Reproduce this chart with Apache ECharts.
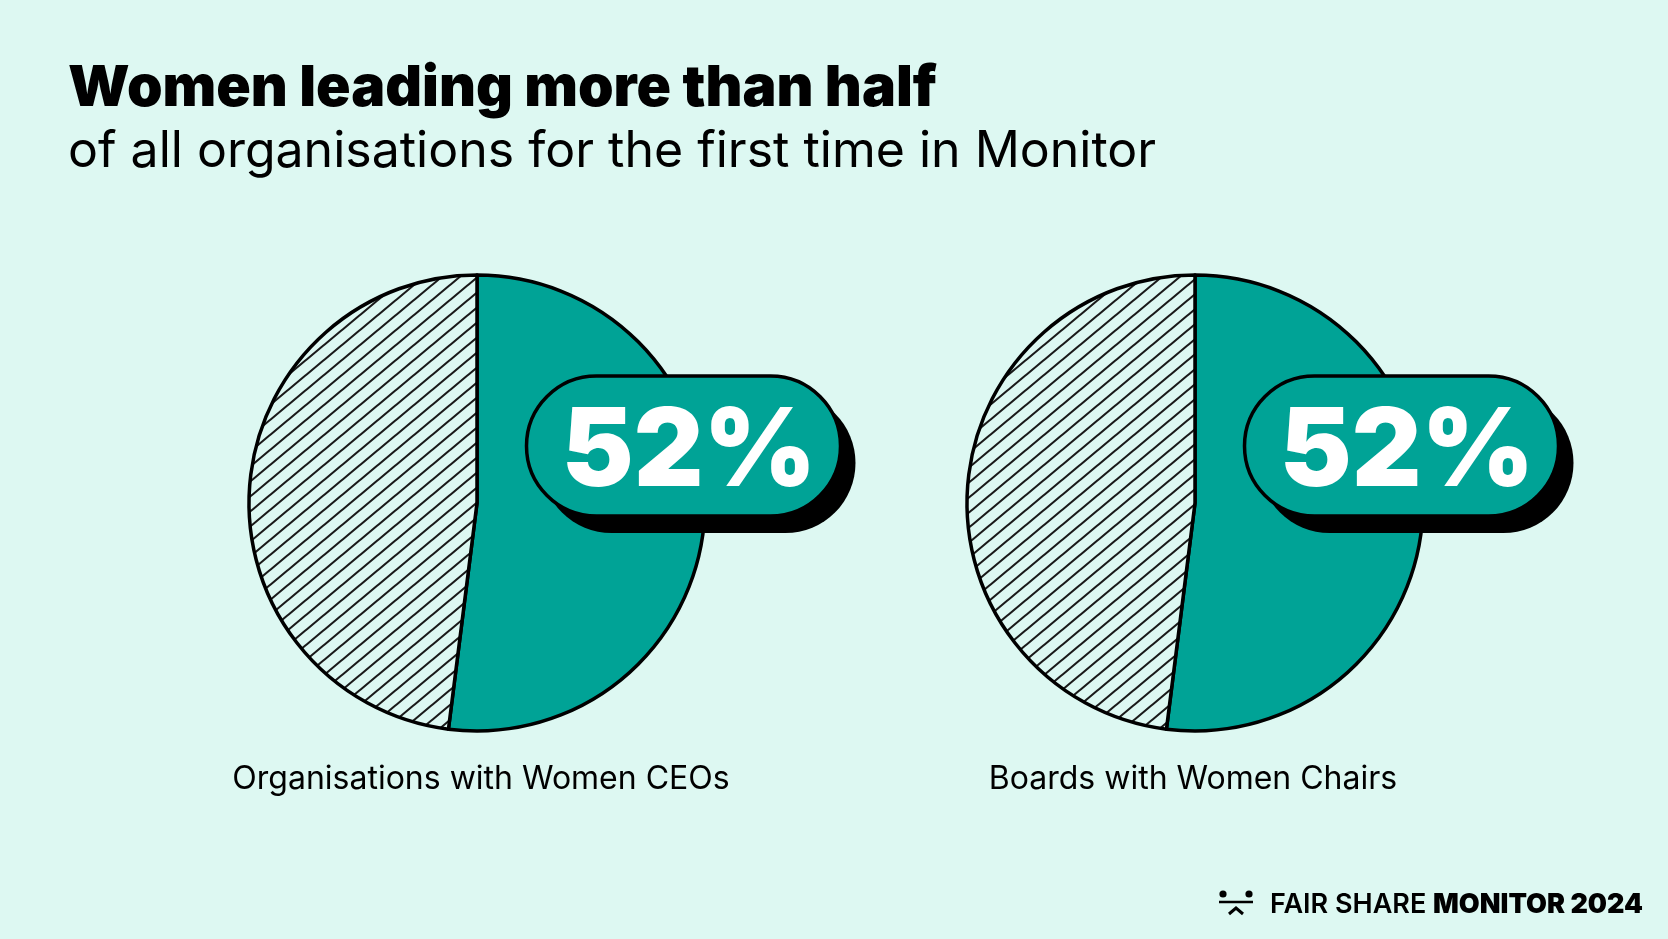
<!DOCTYPE html>
<html><head><meta charset="utf-8">
<script src="https://cdn.jsdelivr.net/npm/echarts@6/dist/echarts.min.js"></script>
<style>html,body{margin:0;padding:0;background:#ddf8f2}#c{width:1668px;height:939px}</style>
</head><body><div id="c"></div>
<script>
// ---- data ----
const categories = ['Organisations with Women CEOs', 'Boards with Women Chairs'];
const womenShare = [52, 52];
const otherShare = [48, 48];
const sliceNames = ['Women', 'Other'];
const titleText = 'Women leading more than half';
const subtitleText = 'of all organisations for the first time in Monitor';

// ---- styles ----
const BG = '#ddf8f2', TEAL = '#00a396', FONT = 'Inter, "Noto Sans", sans-serif';
const centers = [[477, 503], [1195, 503]];
const labelX = [481, 1193];
const R = 228;
const PILL = {dx: 206.5, dy: -57, w: 314, h: 140, shX: 15, shY: 17, textDx: 5.5, textDy: 8};

function hatch() {
  const w = 18, h = 15, c = document.createElement('canvas');
  c.width = w; c.height = h;
  const g = c.getContext('2d');
  g.fillStyle = BG; g.fillRect(0, 0, w, h);
  g.strokeStyle = '#1a1a1a'; g.lineWidth = 2.1; g.lineCap = 'butt';
  g.beginPath();
  g.moveTo(-w, h + h); g.lineTo(2 * w, -h);
  g.moveTo(-w, h); g.lineTo(w, -h);
  g.moveTo(0, 2 * h); g.lineTo(2 * w, 0);
  g.stroke();
  return c;
}
const hatchImg = hatch();

const chart = echarts.init(document.getElementById('c'), null, {renderer: 'canvas'});

const series = categories.map((cat, i) => ({
  type: 'pie',
  name: cat,
  center: centers[i],
  radius: [0, R],
  startAngle: 90,
  clockwise: true,
  silent: true,
  label: {show: false},
  labelLine: {show: false},
  itemStyle: {borderColor: '#000', borderWidth: 3.5},
  data: [
    {name: sliceNames[0], value: womenShare[i], itemStyle: {color: TEAL}},
    {name: sliceNames[1], value: otherShare[i], itemStyle: {color: {image: hatchImg, repeat: 'repeat'}}}
  ]
}));

const graphics = [
  {type: 'text', left: 68, top: 60, style: {text: titleText, font: '900 57px ' + FONT, fill: '#000'}},
  {type: 'text', left: 68, top: 127, style: {text: subtitleText, font: '400 50px ' + FONT, fill: '#000'}},
  // logo
  {type: 'circle', shape: {cx: 1223, cy: 894, r: 3.6}, style: {fill: '#000'}},
  {type: 'circle', shape: {cx: 1249, cy: 894, r: 3.6}, style: {fill: '#000'}},
  {type: 'line', shape: {x1: 1219, y1: 902, x2: 1253, y2: 902}, style: {stroke: '#000', lineWidth: 2.4}},
  {type: 'polyline', shape: {points: [[1229, 914], [1236, 908], [1243, 914]]}, style: {stroke: '#000', lineWidth: 3, fill: null}},
  {type: 'text', x: 1270, y: 905, style: {
    text: '{a|FAIR SHARE }{b|MONITOR 2024}', verticalAlign: 'middle',
    rich: {a: {font: '600 27px ' + FONT, fill: '#000'}, b: {font: '900 27px ' + FONT, fill: '#000'}}
  }}
];
categories.forEach((cat, i) => {
  const [cx, cy] = centers[i];
  const pct = Math.round(womenShare[i] / (womenShare[i] + otherShare[i]) * 100) + '%';
  const px = cx + PILL.dx - PILL.w / 2, py = cy + PILL.dy - PILL.h / 2;
  graphics.push(
    {type: 'rect', z: 10, shape: {x: px + PILL.shX, y: py + PILL.shY, width: PILL.w, height: PILL.h, r: PILL.h / 2},
     style: {fill: '#000'}},
    {type: 'rect', z: 11, shape: {x: px, y: py, width: PILL.w, height: PILL.h, r: PILL.h / 2},
     style: {fill: TEAL, stroke: '#000', lineWidth: 3.5}},
    {type: 'text', z: 12, x: cx + PILL.dx + PILL.textDx, y: cy + PILL.dy + PILL.textDy,
     style: {text: pct, font: '900 108px ' + FONT, fill: '#fff', align: 'center', verticalAlign: 'middle'}},
    {type: 'text', x: labelX[i], y: 779, style: {
      text: cat, font: '400 32px ' + FONT, fill: '#000', align: 'center', verticalAlign: 'middle'
    }}
  );
});

chart.setOption({
  backgroundColor: BG,
  animation: false,
  series: series,
  graphic: graphics
});
</script></body></html>
